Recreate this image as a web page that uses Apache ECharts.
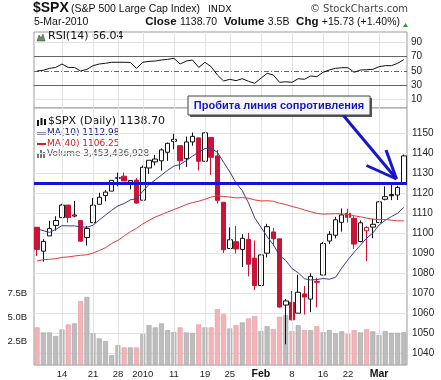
<!DOCTYPE html>
<html><head><meta charset="utf-8">
<script src="https://cdn.jsdelivr.net/npm/echarts@6/dist/echarts.min.js"></script>
<style>html,body{margin:0;padding:0;background:#fff}#c{width:441px;height:380px}</style>
</head><body><div id="c"></div>
<script>
// ---------- DATA ----------
const dates = ['2009-12-08','2009-12-09','2009-12-10','2009-12-11','2009-12-14','2009-12-15','2009-12-16','2009-12-17','2009-12-18','2009-12-21','2009-12-22','2009-12-23','2009-12-24','2009-12-28','2009-12-29','2009-12-30','2009-12-31','2010-01-04','2010-01-05','2010-01-06','2010-01-07','2010-01-08','2010-01-11','2010-01-12','2010-01-13','2010-01-14','2010-01-15','2010-01-19','2010-01-20','2010-01-21','2010-01-22','2010-01-25','2010-01-26','2010-01-27','2010-01-28','2010-01-29','2010-02-01','2010-02-02','2010-02-03','2010-02-04','2010-02-05','2010-02-08','2010-02-09','2010-02-10','2010-02-11','2010-02-12','2010-02-16','2010-02-17','2010-02-18','2010-02-19','2010-02-22','2010-02-23','2010-02-24','2010-02-25','2010-02-26','2010-03-01','2010-03-02','2010-03-03','2010-03-04','2010-03-05'];
const opens = [1103.04,1091.07,1098.69,1103.96,1107.84,1114.11,1108.61,1106.36,1097.86,1105.31,1114.51,1118.84,1121.08,1127.53,1128.55,1125.53,1126.60,1116.56,1132.66,1135.71,1136.27,1140.52,1145.96,1143.81,1137.31,1145.68,1147.72,1136.03,1147.95,1138.68,1115.49,1092.40,1095.80,1091.94,1096.93,1087.61,1073.89,1090.05,1100.67,1097.25,1064.12,1065.51,1060.06,1069.68,1067.10,1075.95,1079.13,1096.14,1099.03,1105.49,1110.00,1107.49,1095.89,1101.24,1103.10,1105.36,1117.01,1119.36,1119.12,1125.12];
const highs = [1103.04,1097.04,1106.25,1108.50,1114.76,1114.11,1116.21,1106.36,1103.74,1117.68,1120.27,1121.58,1126.48,1130.38,1130.38,1126.42,1127.64,1133.87,1136.63,1139.19,1142.46,1145.39,1149.74,1143.81,1148.40,1150.41,1147.77,1150.45,1147.95,1141.58,1115.49,1102.97,1103.69,1099.51,1100.22,1096.45,1089.38,1104.73,1102.72,1097.25,1067.13,1071.20,1079.28,1073.67,1080.04,1077.81,1095.67,1101.03,1108.24,1112.42,1112.29,1108.58,1106.42,1103.50,1107.24,1116.11,1123.46,1125.64,1123.73,1139.38];
const lows = [1088.61,1085.89,1098.69,1101.34,1107.84,1105.35,1107.96,1095.88,1093.88,1105.31,1114.51,1116.00,1121.08,1123.51,1126.08,1121.94,1114.81,1116.56,1129.66,1133.95,1131.32,1136.22,1142.02,1131.77,1133.18,1143.80,1131.39,1135.77,1129.25,1114.84,1090.18,1092.40,1089.86,1083.11,1078.46,1071.59,1073.89,1087.96,1093.97,1062.78,1044.50,1056.51,1060.06,1059.34,1060.59,1062.97,1079.13,1094.72,1097.48,1100.80,1105.38,1092.18,1095.50,1086.02,1097.56,1105.36,1116.51,1116.58,1116.66,1125.12];
const closes = [1091.94,1095.95,1102.35,1106.41,1114.11,1107.93,1109.18,1096.08,1102.47,1114.05,1118.02,1120.59,1126.48,1127.78,1126.20,1126.42,1115.10,1132.99,1136.52,1137.14,1141.69,1144.98,1146.98,1136.22,1145.68,1148.46,1136.03,1150.23,1138.04,1116.48,1091.76,1096.78,1092.17,1097.50,1084.53,1073.87,1089.19,1103.32,1097.28,1063.11,1066.19,1056.74,1070.52,1068.13,1078.47,1075.51,1094.87,1099.51,1106.75,1109.17,1108.01,1094.60,1105.24,1102.94,1104.49,1115.71,1118.31,1118.79,1122.97,1138.70];
const priorClose = 1103.25; // close of the day before the first bar
// volume in billions
const volumes = [3.95,3.42,3.42,3.04,3.74,4.26,4.37,6.70,7.15,3.32,2.80,2.51,1.02,2.09,1.85,1.85,1.85,3.25,4.19,3.95,4.37,3.66,3.46,3.95,3.42,3.38,4.26,3.95,3.95,5.86,5.34,3.84,4.19,4.47,4.89,5.13,3.56,4.08,3.77,5.06,5.24,3.56,4.19,3.66,3.66,4.08,3.46,3.66,3.32,3.53,3.25,3.66,3.42,3.77,3.53,3.14,3.56,3.38,3.38,3.45];
const ma10 = [1102.26,1101.29,1100.46,1101.95,1103.80,1103.71,1103.70,1103.32,1102.97,1104.05,1106.66,1109.12,1111.53,1113.67,1114.88,1116.73,1117.32,1121.01,1124.42,1126.72,1129.09,1131.53,1133.58,1134.42,1136.37,1138.58,1140.67,1142.39,1142.55,1140.48,1135.49,1130.67,1125.19,1121.31,1115.20,1107.74,1103.06,1098.36,1094.29,1088.95,1086.39,1082.39,1080.23,1077.29,1076.68,1076.85,1077.41,1077.03,1077.98,1082.59,1086.77,1090.55,1094.03,1097.51,1100.11,1104.13,1106.47,1108.40,1110.02,1112.98];
const ma40 = [1086.20,1086.77,1087.03,1087.28,1087.94,1088.19,1088.64,1089.01,1089.25,1090.11,1091.39,1092.82,1094.91,1096.45,1098.70,1100.79,1102.54,1104.70,1106.44,1108.14,1109.36,1110.66,1111.87,1113.09,1114.40,1115.38,1116.02,1117.03,1118.11,1118.73,1118.37,1118.15,1117.69,1117.84,1117.56,1116.69,1116.19,1116.27,1116.05,1115.05,1114.41,1113.43,1112.63,1111.67,1110.78,1109.97,1109.61,1109.70,1109.81,1109.69,1109.43,1108.79,1108.25,1107.63,1107.09,1106.82,1106.90,1106.55,1106.21,1106.25];
const rsi14 = [50,51,53.7,55,59.8,55,55,50,52.3,57.5,59.8,60.8,62.2,62.2,62.2,62,53.7,62.2,63.5,64,65.4,66.3,67.8,59.8,64,65.4,55,62.2,56,44.4,36,38.4,36.5,39.2,35.6,32.8,39.8,46.7,44.4,34.2,34.9,34.2,39.2,38.4,43,42.1,48.2,51.4,53.7,54.6,54.6,48.2,51.4,51.8,52.3,56,57.5,57.5,60.8,66.04];
const xTickDates = ['2009-12-14','2009-12-21','2009-12-28','2010-01-04','2010-01-11','2010-01-19','2010-01-25','2010-02-01','2010-02-08','2010-02-16','2010-02-22','2010-03-01'];
const xTickLabels = ['14','21','28','2010','11','19','25','Feb','8','16','22','Mar'];
const priceTicks = [1040,1050,1060,1070,1080,1090,1100,1110,1120,1130,1140,1150];
const rsiTicks = [10,30,50,70,90];
const rsiGrid = [10,90];
const rsiBands = [30,70];
const rsiMid = 50;
const volTicks = [2.5,5.0,7.5];
const resistance = 1125;
const callouts = [
  {date:'2009-12-09', value:1085.89, pos:'bottom'},
  {date:'2010-01-19', value:1150.45, pos:'top'},
  {date:'2010-01-29', value:1071.59, pos:'bottom'},
  {date:'2010-02-02', value:1104.73, pos:'top'},
  {date:'2010-02-05', value:1044.50, pos:'bottom'},
  {date:'2010-02-19', value:1112.42, pos:'top'},
  {date:'2010-02-25', value:1086.02, pos:'bottom'}
];

// ---------- STYLE ----------
const RED = '#cc1236', BLACK = '#111';
const labelMap = {}; xTickDates.forEach((d,i)=>labelMap[d]=xTickLabels[i]);
const tickIdx = new Set(xTickDates.map(d=>dates.indexOf(d)));

const candleData = dates.map((d,i)=>{
  const o=opens[i], c=closes[i], l=lows[i], h=highs[i];
  const prev = i===0 ? priorClose : closes[i-1];
  const col = c < prev ? RED : BLACK;
  const fill = c > o ? '#ffffff' : col;
  return {value:[o,c,l,h], itemStyle:{color:fill,color0:fill,borderColor:col,borderColor0:col}};
});
const volData = volumes.map((v,i)=>{
  const prev = i===0 ? priorClose : closes[i-1];
  const down = closes[i] < prev;
  return {value:v, itemStyle:{color: down?'#f1b5b9':'#bdbdbd', borderColor: down?'#e29aa0':'#a6a6a6', borderWidth:0.6}};
});
const vGrid = xTickDates.map(d=>({xAxis:d}));
const gridLine = {color:'#e3e3e3', width:1, type:'solid'};
const AX = {fontFamily:'Liberation Sans, Arial', fontSize:10, color:'#222'};

const chart = echarts.init(document.getElementById('c'), null, {renderer:'canvas'});
const option = {
  animation:false,
  backgroundColor:'#fff',
  grid:[
    {left:34, width:373, top:32, height:76, show:true, borderColor:'#9a9a9a', borderWidth:1, backgroundColor:'#fff'},
    {left:34, width:373, top:108, height:257, show:true, borderColor:'#9a9a9a', borderWidth:1, backgroundColor:'#fff'}
  ],
  xAxis:[
    {type:'category', gridIndex:0, data:dates, boundaryGap:true, axisLine:{show:false}, axisTick:{show:false}, axisLabel:{show:false}, splitLine:{show:false}},
    {type:'category', gridIndex:1, data:dates, boundaryGap:true, axisLine:{show:false}, axisTick:{show:false}, splitLine:{show:false},
     axisLabel:Object.assign({}, AX, {margin:4, fontSize:9.5, interval:(i)=>tickIdx.has(i),
       formatter:(v)=>{const t=labelMap[v]||''; return isNaN(+t)?'{b|'+t+'}':t;},
       rich:{b:{fontWeight:'bold', fontSize:10.5, fontFamily:'Liberation Sans, Arial', color:'#111'}}})}
  ],
  yAxis:[
    {type:'value', gridIndex:0, position:'right', min:-1.8, max:104.6, axisLine:{show:false},
     axisLabel:Object.assign({}, AX, {margin:4, customValues:rsiTicks, formatter:(v)=>String(v)}),
     axisTick:{show:false, customValues:rsiGrid}, splitLine:{show:true, lineStyle:gridLine}},
    {type:'value', gridIndex:1, position:'right', min:1034.15, max:1162.65, axisLine:{show:false},
     axisLabel:Object.assign({}, AX, {margin:5, customValues:priceTicks, formatter:(v)=>String(v)}),
     axisTick:{show:false, customValues:priceTicks}, splitLine:{show:true, lineStyle:gridLine}},
    {type:'value', gridIndex:1, position:'left', min:0, max:27, axisLine:{show:false},
     axisLabel:Object.assign({}, AX, {margin:7, fontSize:9.5, customValues:volTicks, formatter:(v)=>v.toFixed(1)+'B'}),
     axisTick:{show:false}, splitLine:{show:false}}
  ],
  series:[
    {type:'line', name:'RSI', xAxisIndex:0, yAxisIndex:0, data:rsi14, symbol:'none', lineStyle:{color:'#111', width:1}, z:5,
     markLine:{silent:true, symbol:'none', label:{show:false}, animation:false,
       data:[].concat(vGrid.map(g=>Object.assign({lineStyle:gridLine}, g)),
         rsiBands.map(v=>({yAxis:v, lineStyle:{color:'#666', width:1, type:'solid'}})),
         [{yAxis:rsiMid, lineStyle:{color:'#666', width:1, type:[5,2,1,2]}}])}},
    {type:'bar', name:'Volume', xAxisIndex:1, yAxisIndex:2, data:volData, barWidth:5, z:1,
     markLine:{silent:true, symbol:'none', label:{show:false}, animation:false, lineStyle:gridLine, data:vGrid}},
    {type:'candlestick', name:'SPX', xAxisIndex:1, yAxisIndex:1, data:candleData, barWidth:5, z:3,
     itemStyle:{borderWidth:1},
     markLine:{silent:true, symbol:'none', label:{show:false}, animation:false, z:10,
       lineStyle:{color:'#1414d2', width:3, type:'solid'}, data:[{yAxis:resistance}]},
     markPoint:{symbol:'none', silent:true, animation:false,
       data:callouts.map(c=>({coord:[c.date,c.value], value:c.value,
         label:{show:true, position:c.pos, distance:c.value===1044.5?7:4, formatter:c.value.toFixed(2),
           fontFamily:'Liberation Sans, Arial', fontSize:9.5, color:'#222', backgroundColor:'#fff',
           borderColor:'#a0a0a0', borderWidth:1, padding:[1,2,0,2]}}))}},
    {type:'line', name:'MA10', xAxisIndex:1, yAxisIndex:1, data:ma10, symbol:'none', lineStyle:{color:'#3a3a96', width:1}, z:6},
    {type:'line', name:'MA40', xAxisIndex:1, yAxisIndex:1, data:ma40, symbol:'none', lineStyle:{color:'#e23a3a', width:1}, z:6}
  ],
  graphic:[
    {type:'text', left:33, top:1, style:{text:'$SPX', font:'bold 14px "Liberation Sans", Arial', fill:'#111'}},
    {type:'text', left:71, top:4, style:{text:'(S&P 500 Large Cap Index)', font:'10.5px "Liberation Sans", Arial', fill:'#111'}},
    {type:'text', left:208, top:4.5, style:{text:'INDX', font:'9.5px "DejaVu Sans"', fill:'#111'}},
    {type:'text', right:33, top:4, style:{text:'© StockCharts.com', font:'10px "DejaVu Sans"', fill:'#444'}},
    {type:'text', left:34, top:17, style:{text:'5-Mar-2010', font:'10.5px "Liberation Sans", Arial', fill:'#111'}},
    {type:'text', right:41, top:16, style:{
      text:'{b|Close} {n|1138.70}  {b|Volume} {n|3.5B}  {b|Chg} {n|+15.73 (+1.40%)}',
      rich:{b:{font:'bold 11.5px "Liberation Sans", Arial', fill:'#111'}, n:{font:'10.5px "Liberation Sans", Arial', fill:'#111'}}}},
    {type:'polygon', shape:{points:[[403,27],[408,27],[405.5,23]]}, style:{fill:'#2a9a3a'}},
    // RSI legend
    {type:'polygon', shape:{points:[[37,41],[39,35],[41,38],[43,34],[45,41]]}, style:{fill:'#6a8a6a', stroke:'#334433', lineWidth:0.5}},
    {type:'text', left:48, top:31, style:{text:'RSI(14) 66.04', font:'11px "DejaVu Sans"', fill:'#111'}},
    // price legend
    {type:'group', children:[
      {type:'rect', shape:{x:37, y:120, width:2, height:6}, style:{fill:'#111'}},
      {type:'rect', shape:{x:40.5, y:118, width:2, height:7}, style:{fill:'#111'}},
      {type:'rect', shape:{x:44, y:119, width:2, height:6}, style:{fill:'#111'}}
    ]},
    {type:'text', left:48, top:116, style:{text:'$SPX (Daily) 1138.70', font:'11px "DejaVu Sans"', fill:'#111'}},
    {type:'line', shape:{x1:37, y1:133.5, x2:46, y2:133.5}, style:{stroke:'#1a1a80', lineWidth:2}},
    {type:'text', left:47, top:128.5, style:{text:'MA(10) 1112.98', font:'9px "DejaVu Sans"', fill:'#1a1a80'}},
    {type:'line', shape:{x1:37, y1:144, x2:46, y2:144}, style:{stroke:'#d02020', lineWidth:2}},
    {type:'text', left:47, top:139, style:{text:'MA(40) 1106.25', font:'9px "DejaVu Sans"', fill:'#d02020'}},
    {type:'group', children:[
      {type:'rect', shape:{x:37, y:153, width:2, height:5}, style:{fill:'#777'}},
      {type:'rect', shape:{x:40, y:150, width:2, height:8}, style:{fill:'#777'}},
      {type:'rect', shape:{x:43, y:152, width:2, height:6}, style:{fill:'#777'}}
    ]},
    {type:'text', left:47, top:149.5, style:{text:'Volume 3,453,436,928', font:'9px "DejaVu Sans"', fill:'#555'}},
    // annotation
    {type:'rect', shape:{x:190, y:98, width:182, height:19}, style:{fill:'#555'}, z:20},
    {type:'rect', shape:{x:188, y:96, width:182, height:19}, style:{fill:'#f7f7f7', stroke:'#444', lineWidth:1}, z:21},
    {type:'text', x:279, y:105.5, style:{text:'Пробита линия сопротивления', font:'bold 11px "Liberation Sans", Arial', fill:'#1414c8', align:'center', verticalAlign:'middle'}, z:22},
    {type:'line', shape:{x1:343, y1:115, x2:396.5, y2:179}, style:{stroke:'#1616cc', lineWidth:3}, z:20},
    {type:'line', shape:{x1:386, y1:150, x2:396.5, y2:179}, style:{stroke:'#1616cc', lineWidth:3}, z:20},
    {type:'line', shape:{x1:366.5, y1:165.5, x2:396.5, y2:179}, style:{stroke:'#1616cc', lineWidth:3}, z:20}
  ]
};
chart.setOption(option);
</script></body></html>
